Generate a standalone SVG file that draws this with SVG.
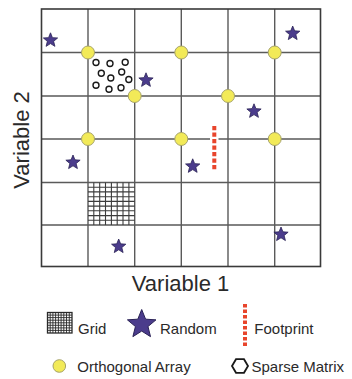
<svg xmlns="http://www.w3.org/2000/svg" xmlns:xlink="http://www.w3.org/1999/xlink" width="352" height="379" viewBox="0 0 352 379">
  <style>
    .bg { fill: #ffffff; }
    .frame { fill: none; stroke: #3a3a3a; stroke-width: 1.6; }
    .gl { stroke: #5a5a5a; stroke-width: 1.4; fill: none; }
    .fine { stroke: #3c3c3c; stroke-width: 1.1; fill: none; }
    .oa { fill: #f2ea58; stroke: #a6a36a; stroke-width: 1; }
    .star { fill: #4b3c8c; stroke: #2a2255; stroke-width: 0.8; }
    .sm { fill: none; stroke: #1a1a1a; stroke-width: 1.4; }
    .fp { stroke: #e8452c; stroke-width: 4; fill: none; }
    .ax { font-family: "Liberation Sans", Arial, sans-serif; font-size: 22px; fill: #2a2a2a; }
    .lg { font-family: "Liberation Sans", Arial, sans-serif; font-size: 15px; fill: #2a2a2a; }
  </style>
  <defs>
    <path id="starShape" d="M0,-7.5 L1.94,-2.67 L7.133,-2.318 L3.138,1.02 L4.408,6.068 L0,3.3 L-4.408,6.068 L-3.138,1.02 L-7.133,-2.318 L-1.94,-2.67 Z"/>
  </defs>
  <rect class="bg" x="0" y="0" width="352" height="379"/>

  <g id="plot-grid">
    <path class="gl" d="M88,9 V266.5 M134.7,9 V266.5 M181.3,9 V266.5 M228,9 V266.5 M274.7,9 V266.5 M41.5,52.5 H320.5 M41.5,96 H320.5 M41.5,139 H320.5 M41.5,182.5 H320.5 M41.5,225 H320.5"/>
    <rect class="frame" x="41.5" y="9" width="279" height="257.5"/>
  </g>

  <g id="grid-sampling">
    <path class="fine" d="M93.8,182.5 V225 M99.7,182.5 V225 M105.5,182.5 V225 M111.4,182.5 V225 M117.2,182.5 V225 M123,182.5 V225 M128.9,182.5 V225 M88,187.2 H134.7 M88,191.9 H134.7 M88,196.7 H134.7 M88,201.4 H134.7 M88,206.1 H134.7 M88,210.8 H134.7 M88,215.6 H134.7 M88,220.3 H134.7"/>
  </g>

  <g id="sparse-matrix">
    <circle class="sm" cx="96" cy="62.5" r="3"/>
    <circle class="sm" cx="110" cy="63.5" r="3"/>
    <circle class="sm" cx="125.2" cy="62.2" r="3"/>
    <circle class="sm" cx="101.3" cy="73.3" r="3"/>
    <circle class="sm" cx="121.7" cy="72" r="3"/>
    <circle class="sm" cx="110.8" cy="78" r="3"/>
    <circle class="sm" cx="128.8" cy="79.5" r="3"/>
    <circle class="sm" cx="96" cy="85.2" r="3"/>
    <circle class="sm" cx="109" cy="89.2" r="3"/>
    <circle class="sm" cx="121" cy="87.7" r="3"/>
  </g>

  <g id="footprint">
    <rect x="210" y="124.5" width="8.5" height="48" fill="#ffffff"/>
    <line class="fp" x1="214.3" y1="126" x2="214.3" y2="171" stroke-dasharray="4.2 2.3"/>
  </g>

  <g id="orthogonal-array">
    <circle class="oa" cx="88" cy="52.5" r="6.5"/>
    <circle class="oa" cx="181.3" cy="52.5" r="6.5"/>
    <circle class="oa" cx="274.7" cy="52.5" r="6.5"/>
    <circle class="oa" cx="134.7" cy="96" r="6.5"/>
    <circle class="oa" cx="228" cy="96" r="6.5"/>
    <circle class="oa" cx="88" cy="139" r="6.5"/>
    <circle class="oa" cx="181.3" cy="139" r="6.5"/>
    <circle class="oa" cx="274.7" cy="139" r="6.5"/>
  </g>

  <g id="random">
    <use xlink:href="#starShape" class="star" transform="translate(50.5,40.3)"/>
    <use xlink:href="#starShape" class="star" transform="translate(292.7,33.5)"/>
    <use xlink:href="#starShape" class="star" transform="translate(146,80.3)"/>
    <use xlink:href="#starShape" class="star" transform="translate(254,111.3)"/>
    <use xlink:href="#starShape" class="star" transform="translate(73,162.5)"/>
    <use xlink:href="#starShape" class="star" transform="translate(192.7,166.3)"/>
    <use xlink:href="#starShape" class="star" transform="translate(281,234.5)"/>
    <use xlink:href="#starShape" class="star" transform="translate(118.7,246.5)"/>
  </g>

  <g id="axis-labels">
    <text class="ax" x="180.5" y="291" text-anchor="middle">Variable 1</text>
    <text class="ax" transform="translate(28.5,140) rotate(-90)" text-anchor="middle">Variable 2</text>
  </g>

  <g id="legend">
    <g id="legend-grid">
      <rect x="47.5" y="312.5" width="24.5" height="20.5" fill="#ffffff" stroke="#2a2a2a" stroke-width="1.3"/>
      <path stroke="#2a2a2a" stroke-width="0.9" fill="none" d="M50.2,312.5 V333 M52.9,312.5 V333 M55.6,312.5 V333 M58.4,312.5 V333 M61.1,312.5 V333 M63.8,312.5 V333 M66.5,312.5 V333 M69.3,312.5 V333 M47.5,315.1 H72 M47.5,317.6 H72 M47.5,320.2 H72 M47.5,322.8 H72 M47.5,325.3 H72 M47.5,327.9 H72 M47.5,330.4 H72"/>
      <text class="lg" x="78" y="334">Grid</text>
    </g>
    <g id="legend-random">
      <use xlink:href="#starShape" class="star" transform="translate(141.7,324.5) scale(2)" style="stroke-width:0.5"/>
      <text class="lg" x="160" y="334">Random</text>
    </g>
    <g id="legend-footprint">
      <line class="fp" x1="245" y1="304" x2="245" y2="348" stroke-dasharray="3.6 1.9"/>
      <text class="lg" x="254.3" y="334">Footprint</text>
    </g>
    <g id="legend-oa">
      <circle class="oa" cx="59.3" cy="366" r="6.3"/>
      <text class="lg" x="77.3" y="372">Orthogonal Array</text>
    </g>
    <g id="legend-sparse">
      <polygon class="sm" style="stroke-width:1.8" points="232,366 236,359.2 244,359.2 248,366 244,372.8 236,372.8"/>
      <text class="lg" x="251.5" y="372">Sparse Matrix</text>
    </g>
  </g>
</svg>
